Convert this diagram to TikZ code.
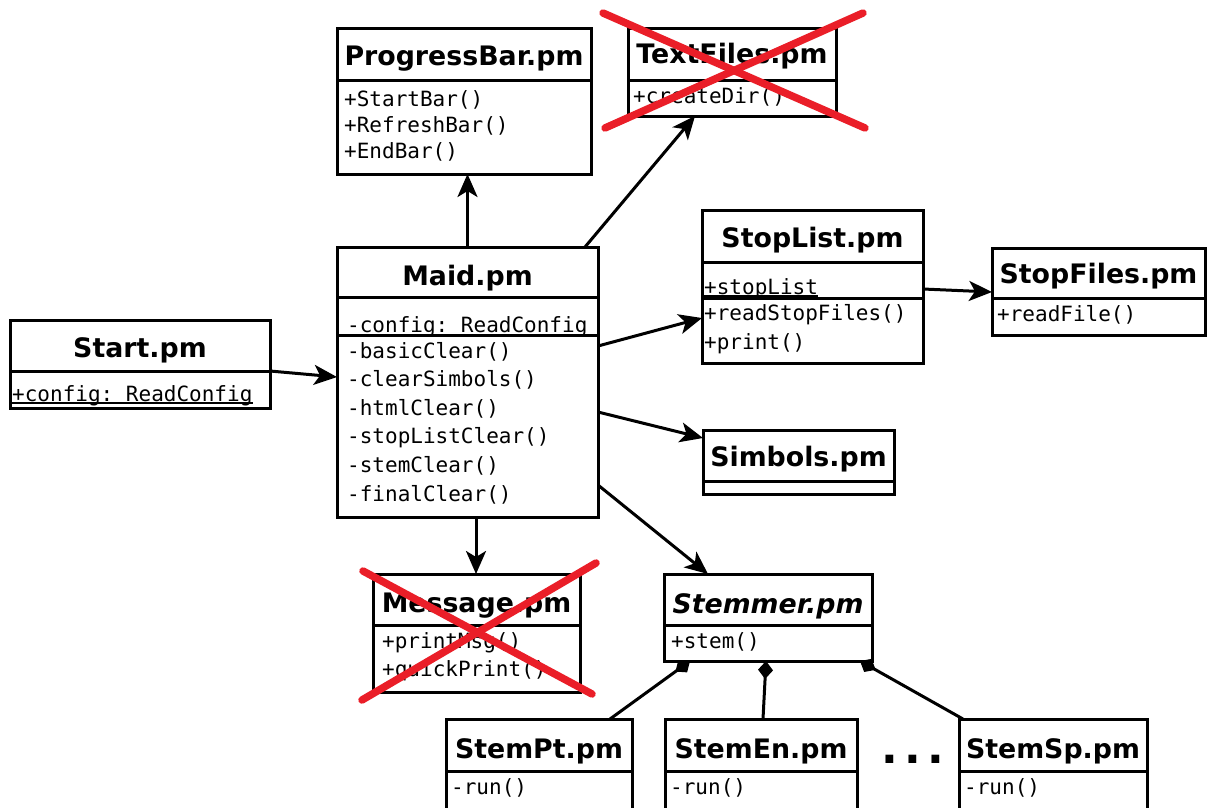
\documentclass[tikz,border=0pt]{standalone}
\usepackage{fontspec}
\setmainfont{DejaVu Sans}
\setmonofont{DejaVu Sans Mono}
\usetikzlibrary{arrows.meta,calc}
\definecolor{xred}{RGB}{234,30,40}
\tikzset{
 cls/.style={draw, line width=3pt, rectangle, inner sep=0pt, outer sep=0pt, anchor=north west},
 ttl/.style={anchor=base, inner sep=0pt, font=\fontsize{26.8}{27}\selectfont\bfseries},
 ttli/.style={ttl, font=\fontsize{26.8}{27}\selectfont\bfseries\itshape},
 mem/.style={anchor=base west, inner sep=0pt, font=\fontsize{21}{21}\selectfont\ttfamily},
 div/.style={line width=3pt},
 uline/.style={line width=1.2pt},
 dep/.style={line width=3pt, -{Stealth[length=23pt,width=20pt,inset=6pt]}},
 comp/.style={line width=3pt, -{Diamond[length=18pt,width=15pt]}},
 cross/.style={xred, line width=7.5pt, line cap=round},
}
\begin{document}
\begin{tikzpicture}[x=1pt,y=-1pt]
\useasboundingbox (0,0) rectangle (1207,807);
\clip (0,0) rectangle (1207,807);
\fill[white] (0,0) rectangle (1207,807);

% ProgressBar
\node[cls, minimum width=254pt, minimum height=146pt] (pbar) at (337,28) {};
\node[ttl] (pbarT) at (464,65) {ProgressBar.pm};
\draw[div] (pbar.west |- 0,80) -- (pbar.east |- 0,80);
\node[mem] (pbar1) at (344,106) {+StartBar()};
\node[mem] (pbar2) at (344,132) {+RefreshBar()};
\node[mem] (pbar3) at (344,158) {+EndBar()};

% TextFiles
\node[cls, minimum width=208pt, minimum height=88pt] (text) at (628,28) {};
\node[ttl] (textT) at (732,63) {TextFiles.pm};
\draw[div] (text.west |- 0,80) -- (text.east |- 0,80);
\node[mem] (text1) at (633,103) {+createDir()};

% Start
\node[cls, minimum width=260pt, minimum height=88pt] (start) at (10,320) {};
\node[ttl] (startT) at (140,357) {Start.pm};
\draw[div] (start.west |- 0,371) -- (start.east |- 0,371);
\node[mem] (start1) at (12,401) {+config: ReadConfig};
\draw[uline] ([yshift=-2pt]start1.base west) -- ([yshift=-2pt]start1.base east);

% Maid
\node[cls, minimum width=261pt, minimum height=270pt] (maid) at (337,247) {};
\node[ttl] (maidT) at (467.5,285) {Maid.pm};
\node[mem] (maidA) at (347,332) {-config: ReadConfig};
\draw[div] (maid.west |- 0,297) -- (maid.east |- 0,297);
\draw[div] (maid.west |- 0,335) -- (maid.east |- 0,335);
\node[mem] (maid1) at (347,358) {-basicClear()};
\node[mem] (maid2) at (347,386.5) {-clearSimbols()};
\node[mem] (maid3) at (347,415) {-htmlClear()};
\node[mem] (maid4) at (347,443.5) {-stopListClear()};
\node[mem] (maid5) at (347,472) {-stemClear()};
\node[mem] (maid6) at (347,501) {-finalClear()};

% StopList
\node[cls, minimum width=221pt, minimum height=153pt] (stoplist) at (702,210) {};
\node[ttl] (stoplistT) at (812.5,247) {StopList.pm};
\node[mem] (stoplistA) at (704,294) {+stopList};
\draw[uline] ([yshift=-2pt]stoplistA.base west) -- ([yshift=-2pt]stoplistA.base east);
\draw[div] (stoplist.west |- 0,262) -- (stoplist.east |- 0,262);
\draw[div] (stoplist.west |- 0,298) -- (stoplist.east |- 0,298);
\node[mem] (stoplist1) at (704,320) {+readStopFiles()};
\node[mem] (stoplist2) at (704,349) {+print()};

% StopFiles
\node[cls, minimum width=213pt, minimum height=87pt] (stopfiles) at (992,248) {};
\node[ttl] (stopfilesT) at (1098.5,283) {StopFiles.pm};
\draw[div] (stopfiles.west |- 0,298) -- (stopfiles.east |- 0,298);
\node[mem] (stopfiles1) at (997,321) {+readFile()};

% Simbols
\node[cls, minimum width=191pt, minimum height=64pt] (simbols) at (703,430) {};
\node[ttl] (simbolsT) at (798.5,466) {Simbols.pm};
\draw[div] (simbols.west |- 0,481) -- (simbols.east |- 0,481);

% Message
\node[cls, minimum width=207pt, minimum height=118pt] (message) at (373,574) {};
\node[ttl] (messageT) at (476.5,612) {Message.pm};
\draw[div] (message.west |- 0,625) -- (message.east |- 0,625);
\node[mem] (message1) at (382,648) {+printMsg()};
\node[mem] (message2) at (382,676) {+quickPrint()};

% Stemmer
\node[cls, minimum width=208pt, minimum height=87pt] (stemmer) at (664,574) {};
\node[ttli] (stemmerT) at (768,613) {Stemmer.pm};
\draw[div] (stemmer.west |- 0,625) -- (stemmer.east |- 0,625);
\node[mem] (stemmer1) at (671,648) {+stem()};

% StemPt / StemEn / StemSp
\node[cls, minimum width=186pt, minimum height=110pt] (stempt) at (446,719) {};
\node[ttl] (stemptT) at (539,758) {StemPt.pm};
\draw[div] (stempt.west |- 0,771) -- (stempt.east |- 0,771);
\node[mem] (stempt1) at (451,794) {-run()};

\node[cls, minimum width=192pt, minimum height=110pt] (stemen) at (665,719) {};
\node[ttl] (stemenT) at (761,758) {StemEn.pm};
\draw[div] (stemen.west |- 0,771) -- (stemen.east |- 0,771);
\node[mem] (stemen1) at (670,794) {-run()};

\node[cls, minimum width=188pt, minimum height=110pt] (stemsp) at (959,719) {};
\node[ttl] (stemspT) at (1053,758) {StemSp.pm};
\draw[div] (stemsp.west |- 0,771) -- (stemsp.east |- 0,771);
\node[mem] (stemsp1) at (964,794) {-run()};

\node[anchor=base, inner sep=0pt, font=\fontsize{44}{44}\selectfont\bfseries] (dots) at (913,763) {.\hspace{6pt}.\hspace{6pt}.};

% connectors
\draw[dep] ($(start.north east)+(0,51)$) -- ($(maid.north west)+(0,130)$);
\draw[dep] (maid.north) -- (maid.north |- pbar.south);
\draw[dep] ($(maid.north west)+(248,0)$) -- ($(text.south west)+(67,0)$);
\draw[dep] ($(maid.north east)+(0,99)$) -- ($(stoplist.north west)+(0,108)$);
\draw[dep] ($(maid.north east)+(0,165)$) -- ($(simbols.north west)+(0,8)$);
\draw[dep] ($(maid.north east)+(0,238)$) -- ($(stemmer.north west)+(44,0)$);
\draw[dep] ($(maid.south west)+(139,0)$) -- ($(message.north west)+(103,0)$);
\draw[dep] ($(stoplist.north east)+(0,79)$) -- ($(stopfiles.north west)+(0,44)$);
\draw[comp] ($(stempt.north west)+(164,0)$) -- ($(stemmer.south west)+(26,0)$);
\draw[comp] ($(stemen.north west)+(98,0)$) -- ($(stemmer.south west)+(102,0)$);
\draw[comp] ($(stemsp.north west)+(4,0)$) -- ($(stemmer.south west)+(196,0)$);

% red crosses
\draw[cross] (603,13) -- (865,128);
\draw[cross] (863,13) -- (605,128);
\draw[cross] (363,571) -- (592,694);
\draw[cross] (596,563) -- (362,700);
\end{tikzpicture}
\end{document}
